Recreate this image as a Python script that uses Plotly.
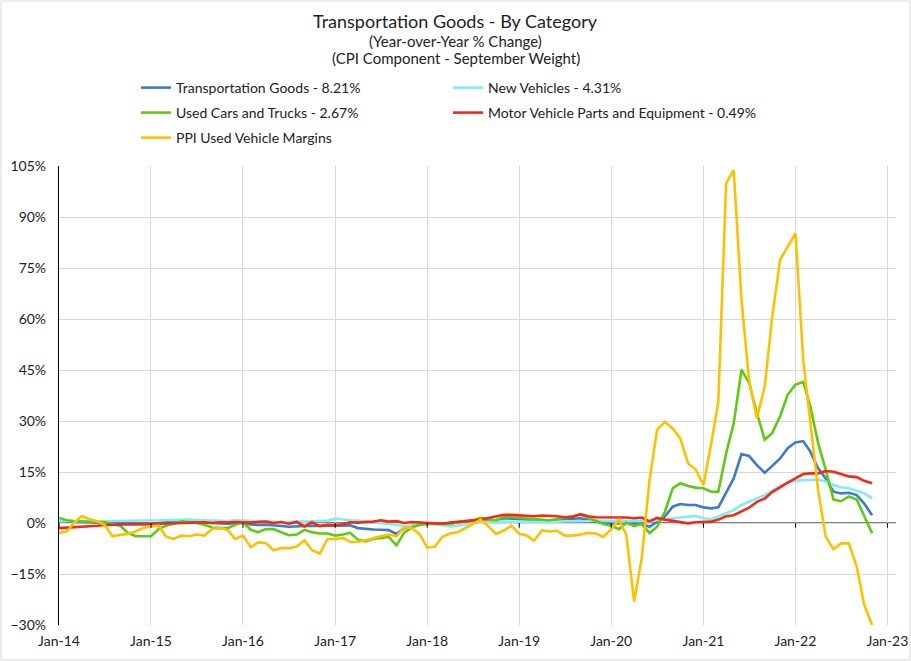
import pandas as pd
import plotly.graph_objects as go

# monthly, Jan-2014 .. Nov-2022
dates = pd.date_range("2014-01-01", periods=107, freq="MS")

transport_goods = [
    0.5, 0.4, 0.3, 0.3, 0.3, 0.2, 0.1, 0.0, -0.1, -0.3, -0.4, -0.4,
    -0.3, 0.0, 0.2, 0.3, 0.4, 0.3, 0.2, 0.1, 0.0, -0.1, -0.2, 0.0,
    0.1, -0.4, -0.6, -0.5, -0.6, -0.9, -1.1, -1.0, -0.7, -0.8, -0.9, -0.8,
    -0.9, -0.8, -0.7, -1.5, -1.8, -1.9, -2.0, -2.1, -3.2, -1.6, -0.8, -0.4,
    -0.2, -0.1, -0.2, -0.1, 0.2, 0.4, 0.6, 1.0, 0.8, 0.8, 1.4, 1.3,
    1.2, 1.1, 0.9, 0.8, 0.7, 0.9, 1.1, 1.3, 1.4, 0.9, 0.4, 0.2,
    -0.1, -0.1, 0.1, -0.3, -0.3, -1.1, 0.4, 1.9, 4.8, 5.6, 5.3, 5.3,
    4.6, 4.3, 4.6, 8.7, 13.1, 20.3, 19.7, 17.0, 14.8, 16.8, 19.0, 22.0,
    23.7, 24.1, 21.0, 16.1, 13.1, 9.2, 8.7, 8.9, 8.2, 5.7, 2.3,
]

new_vehicles = [
    0.5, 0.6, 0.7, 0.6, 0.6, 0.5, 0.5, 0.6, 0.6, 0.6, 0.7, 0.7,
    0.7, 0.8, 0.9, 1.0, 1.1, 1.0, 0.9, 0.8, 0.7, 0.7, 0.6, 0.8,
    0.7, 0.5, 0.4, 0.5, 0.4, 0.3, 0.3, 0.5, 0.4, 0.5, 0.6, 0.7,
    1.3, 1.0, 0.8, 0.7, 0.5, 0.3, 0.1, -0.3, -0.6, -0.9, -0.8, -0.5,
    -0.3, -0.3, -0.6, -1.0, -0.8, -0.3, 0.0, 0.3, 0.4, 0.3, 0.4, 0.3,
    0.3, 0.2, 0.3, 0.2, 0.3, 0.4, 0.5, 0.5, 0.4, 0.6, 0.8, 0.6,
    0.4, 0.4, 0.5, 0.7, 0.7, 0.4, 0.9, 1.1, 1.4, 1.7, 1.9, 2.1,
    1.4, 1.1, 1.9, 2.8, 3.8, 5.3, 6.3, 7.3, 8.2, 9.5, 10.9, 11.9,
    12.4, 12.6, 12.8, 12.8, 12.2, 11.2, 10.5, 10.2, 9.5, 8.7, 7.3,
]

used_cars = [
    1.5, 0.8, 0.6, 0.5, 0.3, 0.2, 0.2, -0.3, -0.8, -2.9, -3.9, -3.9,
    -3.9, -1.8, -0.8, -0.2, 0.5, 0.2, 0.0, -0.5, -1.3, -1.5, -1.5, -0.5,
    0.2, -2.0, -2.7, -1.8, -1.8, -2.7, -3.6, -3.4, -2.0, -2.7, -3.1, -3.1,
    -3.7, -3.4, -2.9, -4.9, -5.4, -4.7, -4.4, -4.1, -6.6, -2.9, -1.3, -0.5,
    -0.2, -0.2, -0.3, -0.3, 0.2, 0.4, 0.7, 1.5, 1.0, 0.8, 1.8, 1.7,
    1.5, 1.4, 1.2, 1.0, 0.8, 1.2, 1.5, 2.0, 2.5, 1.5, 0.6, -0.3,
    -0.8, -1.8, 0.1, -0.9, -0.3, -3.0, -1.1, 3.3, 10.2, 11.7, 10.9, 10.4,
    10.2, 9.2, 9.2, 20.5, 29.3, 45.1, 41.2, 32.4, 24.5, 26.5, 31.4, 37.7,
    40.7, 41.5, 34.3, 23.5, 15.7, 6.9, 6.4, 7.8, 6.9, 2.0, -3.0,
]

mv_parts = [
    -1.5, -1.4, -1.2, -1.0, -0.9, -0.8, -0.6, -0.5, -0.5, -0.5, -0.4, -0.3,
    -0.3, -0.2, -0.1, 0.0, 0.1, 0.2, 0.1, 0.2, 0.0, 0.2, 0.1, 0.3,
    0.2, 0.1, 0.3, 0.4, 0.0, 0.3, -0.2, 0.3, -1.0, 0.2, -0.9, -0.5,
    -0.6, -0.4, 0.2, 0.1, 0.3, 0.4, 0.8, 0.4, 0.6, 0.0, 0.3, 0.2,
    0.2, 0.0, -0.2, 0.1, 0.3, 0.6, 0.7, 1.0, 1.5, 2.0, 2.4, 2.4,
    2.3, 2.1, 2.0, 2.2, 2.2, 2.0, 1.7, 1.8, 2.6, 2.0, 1.7, 1.7,
    1.6, 1.6, 1.6, 1.4, 1.6, 0.5, 1.5, 1.0, 0.7, 0.4, -0.1, 0.2,
    0.4, 0.4, 1.0, 2.0, 2.3, 3.5, 4.5, 6.2, 7.2, 9.1, 10.6, 11.9,
    13.1, 14.4, 14.6, 14.6, 15.3, 15.1, 14.4, 13.7, 13.5, 12.4, 11.7,
]

ppi_used_margins = [
    -2.9, -2.5, 0.0, 2.0, 1.2, 0.5, -0.5, -3.9, -3.5, -3.2, -2.5, -1.5,
    -1.0, -0.8, -4.0, -4.7, -3.7, -3.9, -3.4, -3.7, -1.7, -1.5, -2.0, -4.7,
    -3.7, -7.1, -5.7, -5.9, -8.0, -7.4, -7.4, -6.9, -5.1, -8.0, -9.0, -4.7,
    -4.7, -4.4, -5.6, -5.6, -5.1, -4.4, -3.9, -3.4, -3.9, -1.3, -1.5, -3.2,
    -7.2, -6.9, -4.1, -3.1, -2.7, -1.5, -0.2, 1.0, -1.0, -3.2, -2.2, -0.8,
    -3.2, -3.7, -5.2, -2.2, -2.5, -2.3, -3.7, -3.7, -3.4, -2.9, -3.1, -4.1,
    -1.8, 0.9, -3.5, -23.1, -10.4, 12.6, 27.4, 29.8, 27.8, 24.9, 17.5, 15.8,
    11.2, 23.4, 35.7, 99.9, 103.8, 65.6, 42.0, 30.8, 40.1, 60.7, 77.4, 81.3,
    85.2, 47.9, 29.3, 9.7, -4.0, -7.7, -6.0, -6.0, -12.8, -24.1, -30.0,
]

year_ticks = pd.date_range("2014-01-01", "2023-01-01", freq="YS")

# name, values, colour, legend row
series = [
    ("Transportation Goods - 8.21%", transport_goods, "#3a7bd0", "legend"),
    ("New Vehicles - 4.31%", new_vehicles, "#80ecf8", "legend"),
    ("Used Cars and Trucks - 2.67%", used_cars, "#5ccc10", "legend2"),
    ("Motor Vehicle Parts and Equipment - 0.49%", mv_parts, "#f52812", "legend2"),
    ("PPI Used Vehicle Margins", ppi_used_margins, "#ffc000", "legend3"),
]

L, R, T, B = 59, 15, 166, 36
W, H = 911, 661
pw, ph = W - L - R, H - T - B

fig = go.Figure()
for name, vals, col, leg in series:
    fig.add_trace(go.Scatter(x=dates, y=vals, name=name, mode="lines",
                             legend=leg, line=dict(color=col, width=2.6)))

# zero line with small tick marks like the excel category axis
fig.add_hline(y=0, line=dict(color="black", width=1.2), layer="below")
for d in year_ticks:
    fig.add_shape(type="line", x0=d, x1=d, y0=0, y1=-1.4, xref="x", yref="y",
                  line=dict(color="black", width=1))

# light frame around whole chart
fig.add_shape(type="rect", xref="paper", yref="paper",
              x0=(1 - L) / pw, x1=(W - 1 - L) / pw,
              y0=-(B - 1) / ph, y1=(T + ph - 1) / ph,
              line=dict(color="#d9d9d9", width=1))

# title lines
for txt, ypx, sz in [("Transportation Goods - By Category", 21, 18),
                     ("(Year-over-Year % Change)", 41, 15),
                     ("(CPI Component - September Weight)", 58, 15)]:
    fig.add_annotation(text=txt, xref="paper", yref="paper",
                       x=(W / 2 - L) / pw, y=(H - B - ypx) / ph,
                       xanchor="center", yanchor="middle", showarrow=False,
                       font=dict(size=sz, color="#222"))


def legend_row(ypx):
    return dict(orientation="h", x=(136 - L) / pw, xanchor="left",
                y=(H - B - ypx) / ph, yanchor="middle",
                entrywidth=267, entrywidthmode="pixels", itemwidth=30,
                font=dict(size=14, color="#222"), bgcolor="rgba(0,0,0,0)")


fig.update_layout(
    width=W, height=H,
    margin=dict(l=L, r=R, t=T, b=B, autoexpand=False),
    paper_bgcolor="white", plot_bgcolor="white",
    font=dict(family="Lato, Liberation Sans, sans-serif", size=14, color="#222"),
    legend=legend_row(88),
    legend2=legend_row(113),
    legend3=legend_row(138),
    showlegend=True,
)

fig.update_xaxes(
    range=["2014-01-01", "2023-02-04"],
    tickvals=year_ticks, tickformat="%b-%y",
    showgrid=True, gridcolor="#d9d9d9", gridwidth=1,
    showline=False, zeroline=False, ticks="",
    tickfont=dict(size=14), ticklabelstandoff=6,
)
fig.update_yaxes(
    range=[-30, 105], dtick=15, ticksuffix="%",
    showgrid=True, gridcolor="#d9d9d9", gridwidth=1,
    zeroline=False, showline=True, linecolor="black", linewidth=1.2,
    ticks="", tickfont=dict(size=14), ticklabelstandoff=9,
)

# drop the default page margin so the figure sits at the window corner
fig.write_html("out.html", config={"displayModeBar": False},
               post_script="document.body.style.margin='0';"
                           "document.body.style.overflow='hidden';")
